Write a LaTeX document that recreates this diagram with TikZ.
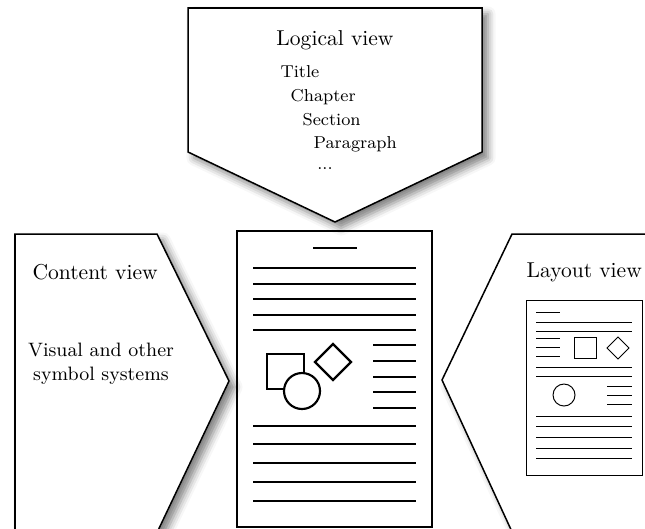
\documentclass[tikz,border=0pt]{standalone}
\usetikzlibrary{shadows.blur}
\begin{document}
\begin{tikzpicture}[x=0.464pt,y=-0.464pt,
		view/.style={draw=black,line width=0.7pt,fill=white,
			blur shadow={shadow xshift=2.8pt,shadow yshift=-2.8pt,shadow blur radius=3.5pt,shadow opacity=50}},
		bigline/.style={line width=1pt},
		smallline/.style={line width=0.45pt}]
		\useasboundingbox (0,0) rectangle (645,528);
		\clip (0,0) rectangle (645,528);
		% the three views
		\draw[view] (188,8) -- (482,8) -- (482,152) -- (335,222) -- (188,152) -- cycle;
		\draw[view] (15,234) -- (157,234) -- (229,381) -- (144,560) -- (15,560) -- cycle;
		\draw[view] (442,380) -- (512,234) -- (680,234) -- (680,560) -- (525,560) -- cycle;
		\node (logical) at (335,40) {Logical view};
		\node[anchor=west,font=\footnotesize] (title) at (273,72) {Title};
		\node[anchor=west,font=\footnotesize] (chapter) at (283,97) {Chapter};
		\node[anchor=west,font=\footnotesize] (section) at (295,120) {Section};
		\node[anchor=west,font=\footnotesize] (paragraph) at (306,144) {Paragraph};
		\node[font=\footnotesize] (dots) at (325,169) {...};
		\node[anchor=west] (content) at (25,272) {Content view};
		\node[font=\small,align=center] (symbols) at (101,364) {Visual and other\\symbol systems};
		\node[anchor=west] (layout) at (519,272) {Layout view};
		% the page in the middle
		\draw[line width=0.6pt] (237,231) rectangle (432,527);
		\draw[bigline] (313,248) -- (357,248);
		\foreach \y in {268,284,299,315,330,426,444,463,482,501}
		\draw[bigline] (253,\y) -- (416,\y);
		\foreach \y in {345,361,377,392,408}
		\draw[bigline] (373,\y) -- (416,\y);
		\draw[bigline] (267,354) rectangle (304,389);
		\draw[bigline,fill=white] (302,391) circle (18);
		\draw[bigline] (333,344) -- (351,362) -- (333,380) -- (315,362) -- cycle;
		% the small page
		\draw[smallline] (526,300) rectangle (642,475);
		\draw[smallline] (536,312) -- (560,312);
		\foreach \y in {322,331,367,376,416,426,437,448,458}
		\draw[smallline] (536,\y) -- (632,\y);
		\foreach \y in {338,347,356}
		\draw[smallline] (536,\y) -- (560,\y);
		\foreach \y in {386,395,404}
		\draw[smallline] (607,\y) -- (632,\y);
		\draw[smallline] (574,337) rectangle (596,358);
		\draw[smallline] (618,337) -- (629,348) -- (618,359) -- (607,348) -- cycle;
		\draw[smallline] (564,395) circle (11);
\end{tikzpicture}
\end{document}
